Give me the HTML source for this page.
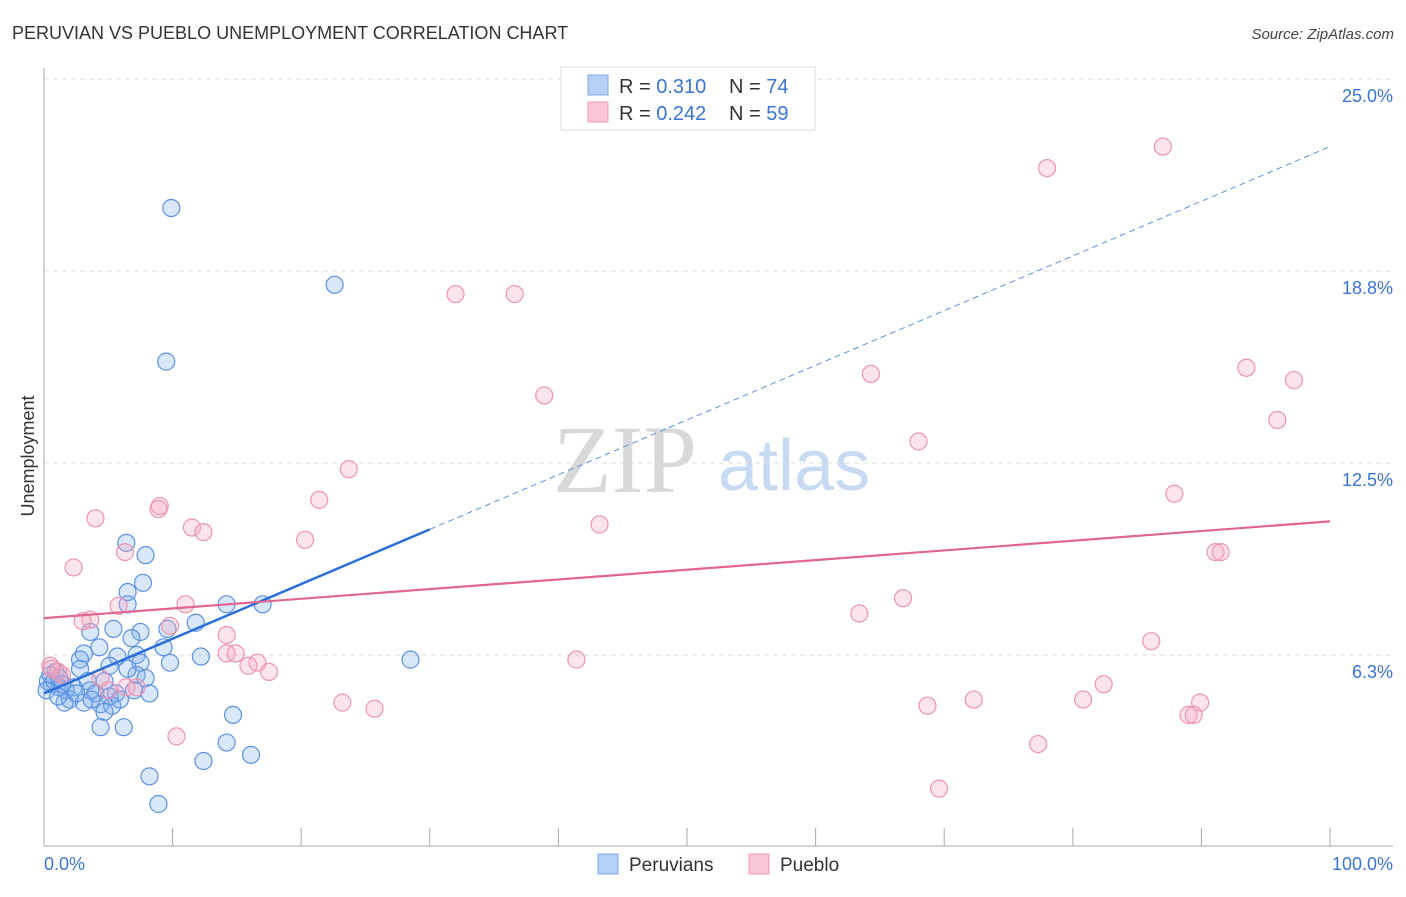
<!DOCTYPE html>
<html><head><meta charset="utf-8"><style>
body{margin:0;background:#fff;font-family:"Liberation Sans",sans-serif;}
svg text{font-family:"Liberation Sans",sans-serif;}
</style></head><body>
<svg id="chart" width="1406" height="892" viewBox="0 0 1406 892" xmlns="http://www.w3.org/2000/svg">
<text x="12" y="39" font-size="18" fill="#333">PERUVIAN VS PUEBLO UNEMPLOYMENT CORRELATION CHART</text>
<text x="1394" y="39" font-size="15" fill="#444" font-style="italic" text-anchor="end">Source: ZipAtlas.com</text>
<g>
<text x="553" y="492" font-size="96" fill="#d8d8d8" font-family="Liberation Serif" style="font-family:'Liberation Serif',serif">ZIP</text>
<text x="718" y="490" font-size="72" fill="#c8daf2">atlas</text>
</g>
<g id="grid"></g>
<g id="axes"></g>
<text transform="translate(34,456) rotate(-90)" font-size="18" fill="#333" text-anchor="middle">Unemployment</text>
<g id="pts"></g>
<g id="lines"></g>
<g>
<rect x="561" y="67" width="254" height="63" fill="#fff" stroke="#ddd"/>
<rect x="588" y="75" width="20" height="20" fill="#b5cff5" stroke="#7fa8e8"/>
<rect x="588" y="102" width="20" height="20" fill="#f8c6d5" stroke="#ee9ab5"/>
<text x="619" y="93" font-size="20" fill="#333">R = <tspan fill="#3a74d4">0.310</tspan></text>
<text x="729" y="93" font-size="20" fill="#333">N = <tspan fill="#3a74d4">74</tspan></text>
<text x="619" y="120" font-size="20" fill="#333">R = <tspan fill="#3a74d4">0.242</tspan></text>
<text x="729" y="120" font-size="20" fill="#333">N = <tspan fill="#3a74d4">59</tspan></text>
</g>
<g>
<rect x="598" y="854" width="20" height="20" fill="#b5cff5" stroke="#7fa8e8"/>
<text x="629" y="871" font-size="19" fill="#333">Peruvians</text>
<rect x="749" y="854" width="20" height="20" fill="#f8c6d5" stroke="#ee9ab5"/>
<text x="780" y="871" font-size="19" fill="#333">Pueblo</text>
</g>
</svg>
<script>
const blueX=[9.9,22.6,9.5,6.4,7.9,7.7,6.5,6.5,14.2,17.0,11.8,9.6,7.5,5.4,3.6,6.8,4.3,3.1,5.7,9.3,12.2,7.2,2.8,5.1,7.5,9.8,28.5,2.8,0.9,7.2,7.9,4.7,3.4,0.5,0.6,1.2,1.7,2.3,3.6,4.0,5.6,8.2,7.0,5.1,2.0,3.1,1.6,4.4,5.3,4.7,14.7,4.4,6.2,14.2,16.1,12.4,8.2,8.9,0.3,0.8,0.2,1.4,2.5,1.1,5.9,3.7,6.5,1.2];
const blueY=[20.8,18.3,15.8,9.9,9.5,8.6,8.3,7.9,7.9,7.9,7.3,7.1,7.0,7.1,7.0,6.8,6.5,6.3,6.2,6.5,6.2,6.25,6.1,5.9,6.0,6.0,6.1,5.8,5.7,5.6,5.5,5.4,5.4,5.6,5.3,5.2,5.1,5.2,5.1,5.0,5.0,5.0,5.1,4.9,4.8,4.7,4.7,4.65,4.6,4.4,4.3,3.9,3.9,3.4,3.0,2.8,2.3,1.4,5.4,5.4,5.1,5.3,5.0,4.9,4.8,4.8,5.8,5.5];
const pinkX=[87.0,78.0,32.0,36.6,93.5,97.2,38.9,64.3,95.9,68.0,23.7,87.9,21.4,4.0,9.0,8.9,43.2,11.5,12.4,20.3,6.3,91.1,91.5,2.3,66.8,63.4,11.0,5.8,3.6,3.0,9.8,14.2,86.1,14.2,14.9,16.6,15.9,17.5,41.4,0.5,1.1,1.4,4.4,5.0,6.4,7.2,82.4,72.3,80.8,23.2,25.7,68.7,89.9,89.0,89.4,77.3,10.3,69.6,0.6];
const pinkY=[22.8,22.1,18.0,18.0,15.6,15.2,14.7,15.4,13.9,13.2,12.3,11.5,11.3,10.7,11.1,11.0,10.5,10.4,10.25,10.0,9.6,9.6,9.6,9.1,8.1,7.6,7.9,7.85,7.4,7.35,7.2,6.9,6.7,6.3,6.3,6.0,5.9,5.7,6.1,5.9,5.7,5.6,5.5,5.1,5.2,5.2,5.3,4.8,4.8,4.7,4.5,4.6,4.7,4.3,4.3,3.35,3.6,1.9,5.8];
const blueTrend=[5.0,0.178]; // intercept, slope
const pinkTrend=[7.45,0.0315];
const yTicks=[6.25,12.5,18.75,25];
const yTickLabels=["6.3%","12.5%","18.8%","25.0%"];
const xTicks=[0,10,20,30,40,50,60,70,80,90,100];

const X=v=>44+v*12.86, Y=v=>847-v*30.72;
const NS="http://www.w3.org/2000/svg";
function mk(parent,tag,attrs){const e=document.createElementNS(NS,tag);for(const k in attrs)e.setAttribute(k,attrs[k]);document.getElementById(parent).appendChild(e);return e;}
yTicks.forEach((t,i)=>{
  const g=mk('grid','line',{x1:44,x2:1393,y1:Y(t),y2:Y(t),stroke:'#ddd','stroke-dasharray':'5,4'});
  
  
  const l=mk('grid','text',{x:1393,y:Y(t)+23,'font-size':18,fill:'#3a74d4','text-anchor':'end'});
  l.textContent=yTickLabels[i];
  
  
});
const ya=mk('axes','line',{x1:44,x2:44,y1:68,y2:846,stroke:'#aaa'});


const xa=mk('axes','line',{x1:44,x2:1393,y1:846,y2:846,stroke:'#aaa'});


xTicks.forEach(t=>{
  const tk=mk('axes','line',{x1:X(t),x2:X(t),y1:828,y2:846,stroke:'#aaa'});
  
  
});
const x0=mk('axes','text',{x:44,y:870,'font-size':18,fill:'#3a74d4'});x0.textContent='0.0%';


const x1=mk('axes','text',{x:1393,y:870,'font-size':18,fill:'#3a74d4','text-anchor':'end'});x1.textContent='100.0%';


blueX.forEach((v,i)=>{
  const c=mk('pts','circle',{cx:X(v),cy:Y(blueY[i]),r:8.5,fill:'rgba(130,175,240,0.3)',stroke:'#5b92e0','stroke-width':1.2});
  
  
});
pinkX.forEach((v,i)=>{
  const c=mk('pts','circle',{cx:X(v),cy:Y(pinkY[i]),r:8.5,fill:'rgba(245,165,190,0.3)',stroke:'#ec94b0','stroke-width':1.2});
  
  
});
const bf=x=>blueTrend[0]+blueTrend[1]*x, pf=x=>pinkTrend[0]+pinkTrend[1]*x;
const b1=mk('lines','line',{x1:X(0),y1:Y(bf(0)),x2:X(30),y2:Y(bf(30)),stroke:'#2a6fd8','stroke-width':2.5});


const b2=mk('lines','line',{x1:X(30),y1:Y(bf(30)),x2:X(100),y2:Y(bf(100)),stroke:'#5b92e0','stroke-width':1,'stroke-dasharray':'6,4'});


const p1=mk('lines','line',{x1:X(0),y1:Y(pf(0)),x2:X(100),y2:Y(pf(100)),stroke:'#e0668f','stroke-width':2.2});


</script>
</body></html>
